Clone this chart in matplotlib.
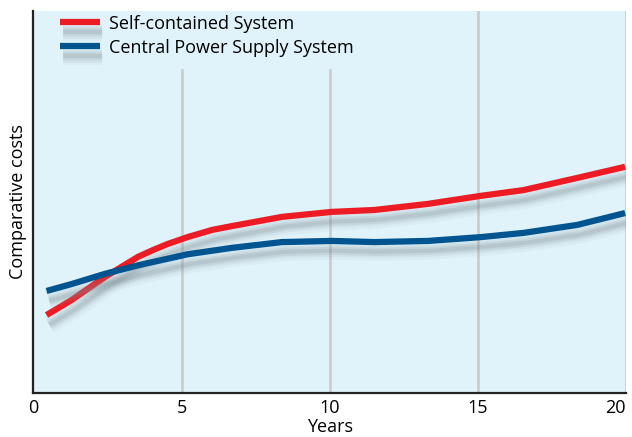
import matplotlib.pyplot as plt
import matplotlib.patheffects as pe

years_self = [0.44, 1.28, 2.42, 3.52, 4.03, 4.53, 5.20, 6.04, 6.71, 8.39, 10.07, 11.51, 13.32, 15.10, 16.54, 18.36, 19.97]
cost_self = [20.4, 24.3, 30.4, 35.6, 37.4, 39.0, 40.8, 42.7, 43.7, 46.1, 47.4, 47.9, 49.5, 51.6, 53.1, 56.3, 59.2]

years_central = [0.44, 1.28, 2.42, 3.52, 5.20, 6.71, 8.39, 10.07, 11.51, 13.32, 15.10, 16.54, 18.36, 19.97]
cost_central = [26.7, 28.5, 31.2, 33.4, 36.3, 38.0, 39.5, 39.8, 39.5, 39.8, 40.8, 41.9, 44.0, 47.1]

labels = ["Self-contained System", "Central Power Supply System"]
xticks = [0, 5, 10, 15, 20]

red = "#ed1c24"
blue = "#00548f"
bg = "#e1f3fa"

plt.rcParams["font.family"] = ["Open Sans", "DejaVu Sans"]

fig = plt.figure(figsize=(6.32, 4.37), dpi=100)
ax = fig.add_axes([0.053, 0.1007, 0.9375, 0.8743])
ax.set_facecolor(bg)

# soft drop shadow under each curve
shadow = [
    pe.SimpleLineShadow(offset=(2, -7), shadow_color="#8a9aa2", alpha=0.07, linewidth=13),
    pe.SimpleLineShadow(offset=(2, -7), shadow_color="#8a9aa2", alpha=0.10, linewidth=9),
    pe.SimpleLineShadow(offset=(2, -7), shadow_color="#7a8a92", alpha=0.15, linewidth=6),
    pe.SimpleLineShadow(offset=(2, -7), shadow_color="#7a8a92", alpha=0.20, linewidth=3),
    pe.Normal(),
]

# grey vertical guides; the first two stop below the legend
for xv, top in zip([5, 10, 15, 20], [0.846, 0.846, 1.0, 1.0]):
    ax.axvline(xv, ymin=0, ymax=top, color="#cccccc", lw=2, zorder=1)

l1, = ax.plot(years_self, cost_self, color=red, lw=4.5, solid_capstyle="butt",
              solid_joinstyle="round", path_effects=shadow, zorder=3, label=labels[0])
l2, = ax.plot(years_central, cost_central, color=blue, lw=4.5, solid_capstyle="butt",
              solid_joinstyle="round", path_effects=shadow, zorder=3, label=labels[1])

ax.set_xlim(0, 20)
ax.set_ylim(0, 100)
ax.set_xticks(xticks)
ax.set_xticklabels([str(t) for t in xticks], fontsize=13)
ax.get_xticklabels()[-1].set_ha("right")
ax.tick_params(axis="x", length=0, pad=4)
ax.set_yticks([])

ax.set_xlabel("Years", fontsize=13, labelpad=1)
ax.set_ylabel("Comparative costs", fontsize=13, labelpad=5)

for side in ["top", "right"]:
    ax.spines[side].set_visible(False)
for side in ["left", "bottom"]:
    ax.spines[side].set_linewidth(1.6)
    ax.spines[side].set_color("#222222")

ax.legend(handles=[l1, l2], loc="upper left", bbox_to_anchor=(0.0455, 0.99),
          frameon=False, fontsize=13, handlelength=2.17, handletextpad=0.5,
          labelspacing=0.33, borderpad=0, borderaxespad=0)

fig.savefig("out.png", dpi=100)
